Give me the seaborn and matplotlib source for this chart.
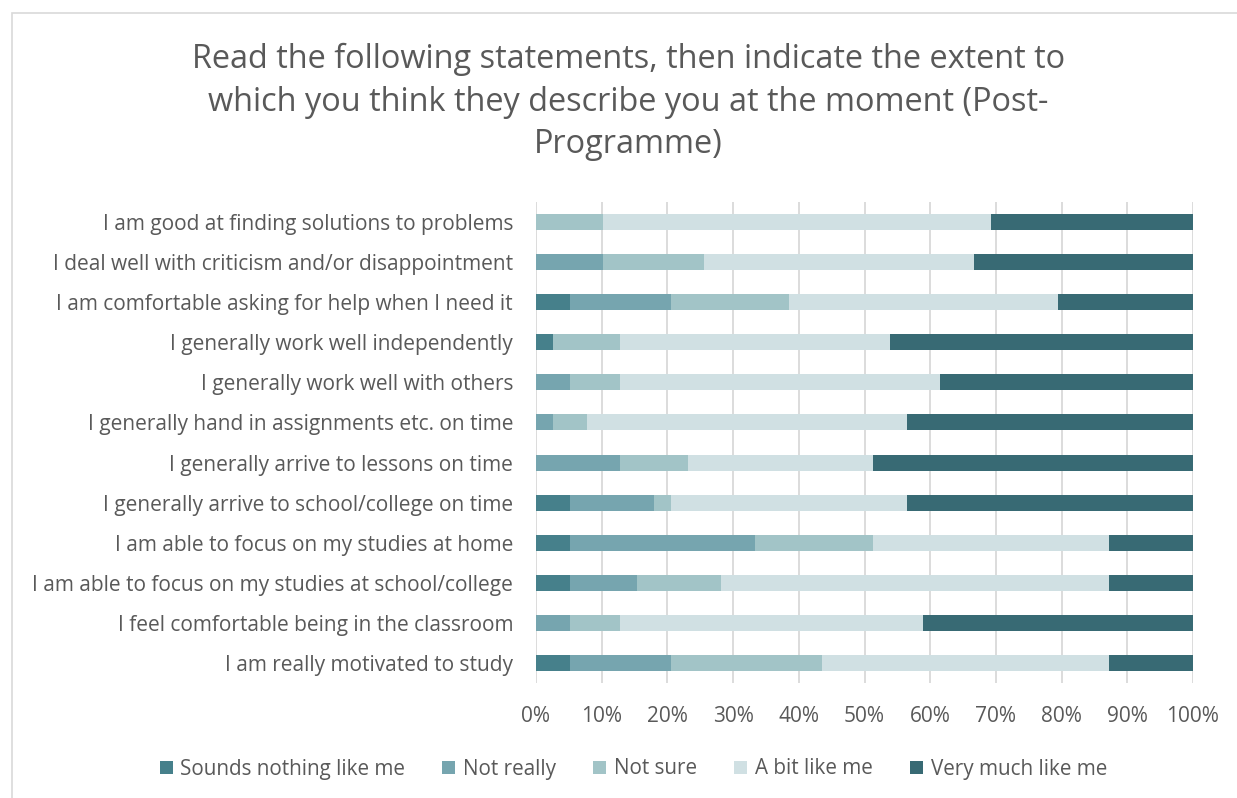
import matplotlib
matplotlib.use("Agg")
import matplotlib.pyplot as plt
from matplotlib.patches import Patch, Rectangle
from matplotlib.ticker import PercentFormatter
import numpy as np
import pandas as pd
import seaborn as sns

statements = [
    "I am good at finding solutions to problems",
    "I deal well with criticism and/or disappointment",
    "I am comfortable asking for help when I need it",
    "I generally work well independently",
    "I generally work well with others",
    "I generally hand in assignments etc. on time",
    "I generally arrive to lessons on time",
    "I generally arrive to school/college on time",
    "I am able to focus on my studies at home",
    "I am able to focus on my studies at school/college",
    "I feel comfortable being in the classroom",
    "I am really motivated to study",
]

responses = ["Sounds nothing like me", "Not really", "Not sure",
             "A bit like me", "Very much like me"]

# Share of respondents (%) per statement
sounds_nothing = [0, 0, 5.13, 2.56, 0, 0, 0, 5.13, 5.13, 5.13, 0, 5.13]
not_really = [0, 10.26, 15.38, 0, 5.13, 2.56, 12.82, 12.82, 28.21, 10.26, 5.13, 15.38]
not_sure = [10.26, 15.38, 17.95, 10.26, 7.69, 5.13, 10.26, 2.56, 17.95, 12.82, 7.69, 23.08]
a_bit = [58.97, 41.03, 41.03, 41.03, 48.72, 48.72, 28.21, 35.90, 35.90, 58.97, 46.15, 43.59]
very_much = [30.77, 33.33, 20.51, 46.15, 38.46, 43.59, 48.72, 43.59, 12.82, 12.82, 41.03, 12.82]

colors = ["#46808B", "#76A5AF", "#A2C4C7", "#D0E0E3", "#386A74"]

sns.set_theme(style="white")
plt.rcParams["font.family"] = ["Open Sans", "DejaVu Sans"]
text_color = "#595959"

df = pd.DataFrame({
    "statement": statements,
    responses[0]: sounds_nothing,
    responses[1]: not_really,
    responses[2]: not_sure,
    responses[3]: a_bit,
    responses[4]: very_much,
})
cum = df[responses].cumsum(axis=1) / 100.0
cum["statement"] = df["statement"]

fig = plt.figure(figsize=(12.37, 7.98), dpi=100)
ax = fig.add_axes([536 / 1237, 1 - 683 / 798, (1193 - 536) / 1237, (683 - 202) / 798])

# Stacked bars: draw cumulative totals from the outermost segment inwards
for resp, col in reversed(list(zip(responses, colors))):
    sns.barplot(data=cum, x=resp, y="statement", orient="h", color=col,
                width=0.4, ax=ax, saturation=1, linewidth=0, zorder=3)

ax.set_xlim(0, 1)
ax.set_ylim(len(statements) - 0.5, -0.5)
ax.xaxis.set_major_locator(plt.MultipleLocator(0.1))
ax.xaxis.set_major_formatter(PercentFormatter(1.0, decimals=0))
ax.grid(axis="x", color="#D9D9D9", linewidth=1.3, zorder=0)
ax.grid(axis="y", visible=False)
for s in ax.spines.values():
    s.set_visible(False)
ax.set_xlabel("")
ax.set_ylabel("")
ax.tick_params(axis="both", length=0, labelsize=15, colors=text_color)
ax.tick_params(axis="y", pad=16.5)
ax.tick_params(axis="x", pad=16.5)

fig.text(0.508, 0.946,
         "Read the following statements, then indicate the extent to\n"
         "which you think they describe you at the moment (Post-\nProgramme)",
         ha="center", va="top", fontsize=23.4, color=text_color, linespacing=1.37)

handles = [Patch(facecolor=c, edgecolor="none") for c in colors]
fig.legend(handles, responses, loc="center", bbox_to_anchor=(0.512, 1 - 769 / 798),
           ncol=5, frameon=False, fontsize=14.9, labelcolor=text_color,
           handlelength=0.62, handleheight=0.62, handletextpad=0.38, columnspacing=1.8)

fig.patches.append(Rectangle((12 / 1237, -0.01), 1.1, 1 - 13 / 798 + 0.01,
                             transform=fig.transFigure, fill=False,
                             edgecolor="#D9D9D9", linewidth=1.2))

fig.savefig("out.png", dpi=100, facecolor="white")
